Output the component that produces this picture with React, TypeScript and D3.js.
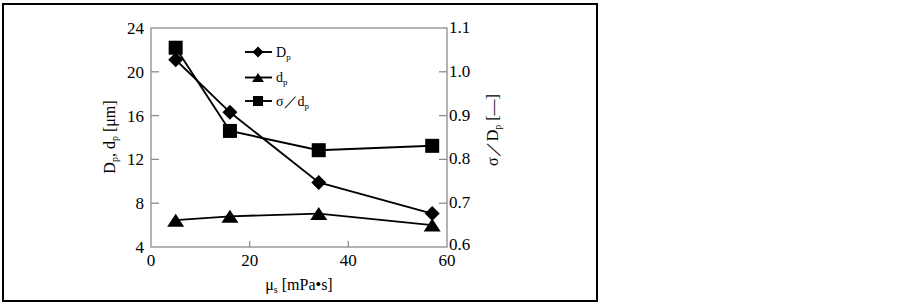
import React from "react";
import * as d3 from "d3";

const xValues = [5, 16, 34, 57];
const dpCapital = [21.1, 16.3, 9.9, 7.05];
const dpSmall = [6.45, 6.8, 7.05, 6.0];
const sigmaRatio = [1.055, 0.865, 0.821, 0.831];
const xTicks = [0, 20, 40, 60];
const leftTicks = [4, 8, 12, 16, 20, 24];
const rightTicks = [0.6, 0.7, 0.8, 0.9, 1.0, 1.1];

const W = 903, H = 306;
const L = 151, R = 447, T = 28, B = 247;
const FONT = "'Liberation Serif', 'Times New Roman', serif";

function diamondPath(cx: number, cy: number, r: number) {
  return `M${cx},${cy - r}L${cx + r},${cy}L${cx},${cy + r}L${cx - r},${cy}Z`;
}
function trianglePath(cx: number, cy: number, w: number, h: number) {
  return `M${cx},${cy - h / 2}L${cx + w / 2},${cy + h / 2}L${cx - w / 2},${cy + h / 2}Z`;
}

export default function App() {
  const x = d3.scaleLinear().domain([0, 60]).range([L, R]);
  const yL = d3.scaleLinear().domain([4, 24]).range([B, T]);
  const yR = d3.scaleLinear().domain([0.6, 1.1]).range([B, T]);
  const lineL = d3.line<number>().x((_, i) => x(xValues[i])).y((d) => yL(d));
  const lineR = d3.line<number>().x((_, i) => x(xValues[i])).y((d) => yR(d));
  const axisColor = "#8c8c8c";
  const legendRows = [52, 77.5, 101];
  const lx0 = 245, lx1 = 272, lxm = 258;
  const ts = { fontFamily: FONT };

  return (
    <div style={{ position: "fixed", left: 0, top: 0 }}>
      <svg width={W} height={H} style={{ display: "block", background: "#fff", fontFamily: FONT }}>
        <rect x={3} y={4} width={594} height={297} fill="none" stroke="#000" strokeWidth={2} />
        <rect x={L} y={T} width={R - L} height={B - T} fill="none" stroke={axisColor} strokeWidth={1.3} />
        {xTicks.map((t) => (
          <g key={"xt" + t}>
            {t > 0 && t < 60 && <line x1={x(t)} x2={x(t)} y1={B} y2={B - 6} stroke={axisColor} strokeWidth={1.3} />}
            <text style={ts} x={x(t)} y={266} fontSize={17} textAnchor="middle">{t}</text>
          </g>
        ))}
        {leftTicks.map((t) => (
          <g key={"lt" + t}>
            {t > 4 && t < 24 && <line x1={L} x2={L + 8} y1={yL(t)} y2={yL(t)} stroke={axisColor} strokeWidth={1.3} />}
            <text style={ts} x={144} y={yL(t) + 6} fontSize={17} textAnchor="end">{t}</text>
          </g>
        ))}
        {rightTicks.map((t) => (
          <g key={"rt" + t}>
            {t > 0.61 && t < 1.09 && <line x1={R} x2={R - 8} y1={yR(t)} y2={yR(t)} stroke={axisColor} strokeWidth={1.3} />}
            <text style={ts} x={449} y={yR(t) + (t < 0.61 ? 3 : 5)} fontSize={17} textAnchor="start">{t.toFixed(1)}</text>
          </g>
        ))}
        <text style={ts} x={299} y={290} fontSize={16} textAnchor="middle">
          μ<tspan fontSize={10} dy={3}>s</tspan><tspan dy={-3}> [mPa•s]</tspan>
        </text>
        <text style={ts} transform={`translate(115,137) rotate(-90)`} fontSize={16} textAnchor="middle">
          D<tspan fontSize={10} dy={3}>p</tspan><tspan dy={-3}>, d</tspan><tspan fontSize={10} dy={3}>p</tspan><tspan dy={-3}> [μm]</tspan>
        </text>
        <text style={ts} transform={`translate(498,130) rotate(-90)`} fontSize={16} textAnchor="middle">
          σ／D<tspan fontSize={10} dy={3}>p</tspan><tspan dy={-3}> [—]</tspan>
        </text>
        <path d={lineL(dpCapital) || ""} fill="none" stroke="#000" strokeWidth={1.9} />
        <path d={lineL(dpSmall) || ""} fill="none" stroke="#000" strokeWidth={1.9} />
        <path d={lineR(sigmaRatio) || ""} fill="none" stroke="#000" strokeWidth={1.9} />
        {sigmaRatio.map((v, i) => (
          <rect key={"s" + i} x={x(xValues[i]) - 7} y={yR(v) - 7} width={14} height={14} fill="#000" />
        ))}
        {dpCapital.map((v, i) => (
          <path key={"d" + i} d={diamondPath(x(xValues[i]), yL(v), 7.5)} fill="#000" />
        ))}
        {dpSmall.map((v, i) => (
          <path key={"t" + i} d={trianglePath(x(xValues[i]), yL(v), 17, 13)} fill="#000" />
        ))}
        {legendRows.map((ly, i) => (
          <line key={"ll" + i} x1={lx0} x2={lx1} y1={ly} y2={ly} stroke="#000" strokeWidth={1.9} />
        ))}
        <path d={diamondPath(lxm, legendRows[0], 5.5)} fill="#000" />
        <path d={trianglePath(lxm, legendRows[1], 12, 9)} fill="#000" />
        <rect x={lxm - 5} y={legendRows[2] - 5} width={10} height={10} fill="#000" />
        <text style={ts} x={276} y={legendRows[0] + 4.5} fontSize={14}>
          D<tspan fontSize={9} dy={3}>p</tspan>
        </text>
        <text style={ts} x={276} y={legendRows[1] + 4.5} fontSize={14}>
          d<tspan fontSize={9} dy={3}>p</tspan>
        </text>
        <text style={ts} x={276} y={legendRows[2] + 4.5} fontSize={14}>
          σ／d<tspan fontSize={9} dy={3}>p</tspan>
        </text>
      </svg>
    </div>
  );
}
